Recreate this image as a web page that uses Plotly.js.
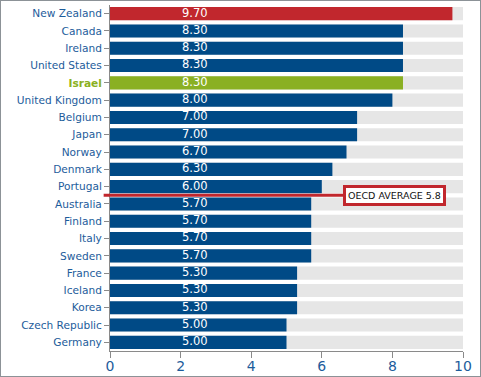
<!DOCTYPE html>
<html><head><meta charset="utf-8">
<script src="https://cdn.plot.ly/plotly-3.0.1.min.js"></script>
<style>
html,body{margin:0;padding:0;background:#fff;}
#chart{width:481px;height:377px;box-sizing:border-box;border:1px solid #8c9297;}
</style></head>
<body><div id="chart"></div>
<script>
const countries = ["New Zealand","Canada","Ireland","United States","Israel","United Kingdom","Belgium","Japan","Norway","Denmark","Portugal","Australia","Finland","Italy","Sweden","France","Iceland","Korea","Czech Republic","Germany"];
const values = [9.70,8.30,8.30,8.30,8.30,8.00,7.00,7.00,6.70,6.30,6.00,5.70,5.70,5.70,5.70,5.30,5.30,5.30,5.00,5.00];
const maxValue = 10;
const oecdAverage = 5.8;
const oecdLabel = "OECD AVERAGE 5.8";

const blue = "#004a86", red = "#c1272d", green = "#8ab023", labelBlue = "#1d5c9b";
const barColors = countries.map(c => c === "New Zealand" ? red : (c === "Israel" ? green : blue));
const idx = countries.map((c,i)=>i);
const tickText = countries.map(c => c === "Israel" ? '<b><span style="color:'+green+'">'+c+'</span></b>' : c);

const traces = [
  {type:"bar", orientation:"h", y:idx, x:countries.map(()=>maxValue), marker:{color:"#e6e6e6"}, width:0.76, hoverinfo:"skip"},
  {type:"bar", orientation:"h", y:idx, x:values, marker:{color:barColors}, width:0.76},
  {type:"scatter", mode:"text", y:idx, x:countries.map(()=>2.4), text:values.map(v=>v.toFixed(2)),
   textfont:{color:"#ffffff", size:11.5, family:"DejaVu Sans, Verdana, sans-serif"}, textposition:"middle center", hoverinfo:"skip"}
];

const layout = {
  width:479, height:375,
  margin:{l:109, r:17, t:4, b:25},
  barmode:"overlay", showlegend:false,
  paper_bgcolor:"#fff", plot_bgcolor:"#fff",
  font:{family:"DejaVu Sans, Verdana, sans-serif", color:labelBlue},
  xaxis:{range:[0,10], tickvals:[0,2,4,6,8,10], ticks:"outside", ticklen:6, tickcolor:"#8a8a8a",
    showline:true, linecolor:"#8a8a8a", linewidth:1, showgrid:false, zeroline:false, ticklabelstandoff:-4,
    tickfont:{size:14, color:labelBlue}, fixedrange:true},
  yaxis:{range:[19.5,-0.5], tickvals:idx, ticktext:tickText, ticks:"outside", ticklen:5, tickcolor:"#8a8a8a",
    showline:true, linecolor:"#8a8a8a", linewidth:1, showgrid:false, zeroline:false,
    tickfont:{size:10.6, color:labelBlue}, fixedrange:true},
  shapes:[
    {type:"line", xref:"paper", yref:"y", x0:-0.018, x1:0.8, y0:10.5, y1:10.5, line:{color:red, width:3}, layer:"above"}
  ],
  annotations:[
    {xref:"x", yref:"y", x:8.05, y:10.5, text:oecdLabel, showarrow:false, bgcolor:"#fff", bordercolor:red, borderwidth:3,
     borderpad:2, font:{size:9.5, color:"#111", family:"DejaVu Sans, Verdana, sans-serif"}}
  ]
};
Plotly.newPlot("chart", traces, layout, {displayModeBar:false, staticPlot:true});
</script></body></html>
